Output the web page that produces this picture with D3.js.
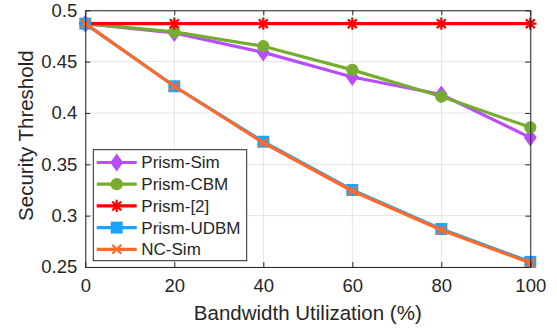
<!DOCTYPE html>
<html><head><meta charset="utf-8">
<script src="https://cdn.jsdelivr.net/npm/d3@7"></script>
<style>body{margin:0;background:#fff}svg{display:block}text{font-family:"Liberation Sans",Arial,sans-serif;fill:#262626}</style>
</head><body>
<script>
const xValues = [0, 20, 40, 60, 80, 100];
const prismSim = [0.487, 0.478, 0.459, 0.435, 0.418, 0.376];
const prismCBM = [0.487, 0.479, 0.465, 0.442, 0.416, 0.386];
const prism2 = [0.487, 0.487, 0.487, 0.487, 0.487, 0.487];
const prismUDBM = [0.487, 0.426, 0.372, 0.325, 0.287, 0.255];
const ncSim = [0.487, 0.426, 0.371, 0.324, 0.286, 0.254];
const xTicks = [0, 20, 40, 60, 80, 100];
const yTicks = [0.25, 0.3, 0.35, 0.4, 0.45, 0.5];
const seriesNames = ["Prism-Sim", "Prism-CBM", "Prism-[2]", "Prism-UDBM", "NC-Sim"];
const seriesColors = ["#B84CFF", "#77AC30", "#FF0000", "#1AA3FF", "#FF6929"];
const seriesMarkers = ["diamond", "circle", "asterisk", "square", "cross"];
const seriesData = [prismSim, prismCBM, prism2, prismUDBM, ncSim];

const W = 557, H = 331;
const m = {l: 85.3, r: W - 530.3, t: 10.3, b: H - 267};
const svg = d3.select("body").append("svg").attr("width", W).attr("height", H);
const x = d3.scaleLinear().domain([0, 100]).range([m.l, W - m.r]);
const y = d3.scaleLinear().domain([0.25, 0.5]).range([H - m.b, m.t]);

// grid
const g = svg.append("g");
g.selectAll("line.gx").data(xTicks).join("line")
  .attr("x1", d => x(d)).attr("x2", d => x(d)).attr("y1", y(0.25)).attr("y2", y(0.5))
  .attr("stroke", "#e3e3e3").attr("stroke-width", 1);
g.selectAll("line.gy").data(yTicks).join("line")
  .attr("y1", d => y(d)).attr("y2", d => y(d)).attr("x1", x(0)).attr("x2", x(100))
  .attr("stroke", "#e3e3e3").attr("stroke-width", 1);

function marker(sel, type, color, s) {
  if (type === "diamond") {
    sel.append("path").attr("d", `M0,${-s}L${s*0.72},0L0,${s}L${-s*0.72},0Z`).attr("fill", color);
  } else if (type === "circle") {
    sel.append("circle").attr("r", s*0.72).attr("fill", color);
  } else if (type === "square") {
    sel.append("rect").attr("x", -s*0.68).attr("y", -s*0.68).attr("width", s*1.36).attr("height", s*1.36).attr("fill", color);
  } else if (type === "asterisk") {
    const a = s*0.62, b = a*0.72;
    sel.append("path").attr("d", `M${-a},0L${a},0M0,${-a}L0,${a}M${-b},${-b}L${b},${b}M${-b},${b}L${b},${-b}`)
      .attr("stroke", color).attr("stroke-width", 2.2).attr("fill", "none");
  } else if (type === "cross") {
    const a = s*0.45;
    sel.append("path").attr("d", `M${-a},${-a}L${a},${a}M${-a},${a}L${a},${-a}`)
      .attr("stroke", color).attr("stroke-width", 2.2).attr("fill", "none");
  }
}
const msize = [9, 8.5, 10, 8.8, 10];

const line = d3.line().x((d, i) => x(xValues[i])).y(d => y(d));
seriesData.forEach((data, k) => {
  const sg = svg.append("g");
  sg.append("path").datum(data).attr("d", line).attr("fill", "none")
    .attr("stroke", seriesColors[k]).attr("stroke-width", 3.2);
  data.forEach((v, i) => {
    const mg = sg.append("g").attr("transform", `translate(${x(xValues[i])},${y(v)})`);
    marker(mg, seriesMarkers[k], seriesColors[k], msize[k]);
  });
});

// axes box
const axC = "#262626";
const xAxis = svg.append("g").attr("transform", `translate(0,${y(0.25)})`)
  .call(d3.axisBottom(x).tickValues(xTicks).tickSizeInner(-5).tickSizeOuter(0).tickPadding(12).tickFormat(d3.format("d")));
const xAxisTop = svg.append("g").attr("transform", `translate(0,${y(0.5)})`)
  .call(d3.axisTop(x).tickValues(xTicks).tickSizeInner(-5).tickSizeOuter(0).tickFormat(""));
const yAxis = svg.append("g").attr("transform", `translate(${x(0)},0)`)
  .call(d3.axisLeft(y).tickValues(yTicks).tickSizeInner(-5).tickSizeOuter(0).tickPadding(8).tickFormat(d => d3.format("")(+d.toFixed(2))));
const yAxisR = svg.append("g").attr("transform", `translate(${x(100)},0)`)
  .call(d3.axisRight(y).tickValues(yTicks).tickSizeInner(-5).tickSizeOuter(0).tickFormat(""));
[xAxis, xAxisTop, yAxis, yAxisR].forEach(a => {
  a.selectAll("path.domain").attr("stroke", axC).attr("stroke-width", 1);
  a.selectAll(".tick line").attr("stroke", axC).attr("stroke-width", 1);
  a.selectAll("text").attr("font-size", 18.5).attr("font-family", "Liberation Sans, Arial, sans-serif").attr("fill", axC);
});

svg.append("text").attr("x", x(50)).attr("y", 320).attr("text-anchor", "middle")
  .attr("font-size", 20.5).text("Bandwidth Utilization (%)");
svg.append("text").attr("transform", `translate(33,${(y(0.25)+y(0.5))/2 - 3}) rotate(-90)`).attr("text-anchor", "middle")
  .attr("font-size", 20.5).text("Security Threshold");

// legend
const lg = svg.append("g");
lg.append("rect").attr("x", 93.3).attr("y", 149.7).attr("width", 153.4).attr("height", 111)
  .attr("fill", "#fff").attr("stroke", axC).attr("stroke-width", 1);
seriesNames.forEach((n, k) => {
  const yy = 162.5 + k * 21.7;
  lg.append("line").attr("x1", 96.7).attr("x2", 136.7).attr("y1", yy).attr("y2", yy)
    .attr("stroke", seriesColors[k]).attr("stroke-width", 3.2);
  const mg = lg.append("g").attr("transform", `translate(116.7,${yy})`);
  marker(mg, seriesMarkers[k], seriesColors[k], msize[k]);
  lg.append("text").attr("x", 141.3).attr("y", yy).attr("dy", "0.35em").attr("font-size", 17).text(n);
});
</script>
</body></html>
